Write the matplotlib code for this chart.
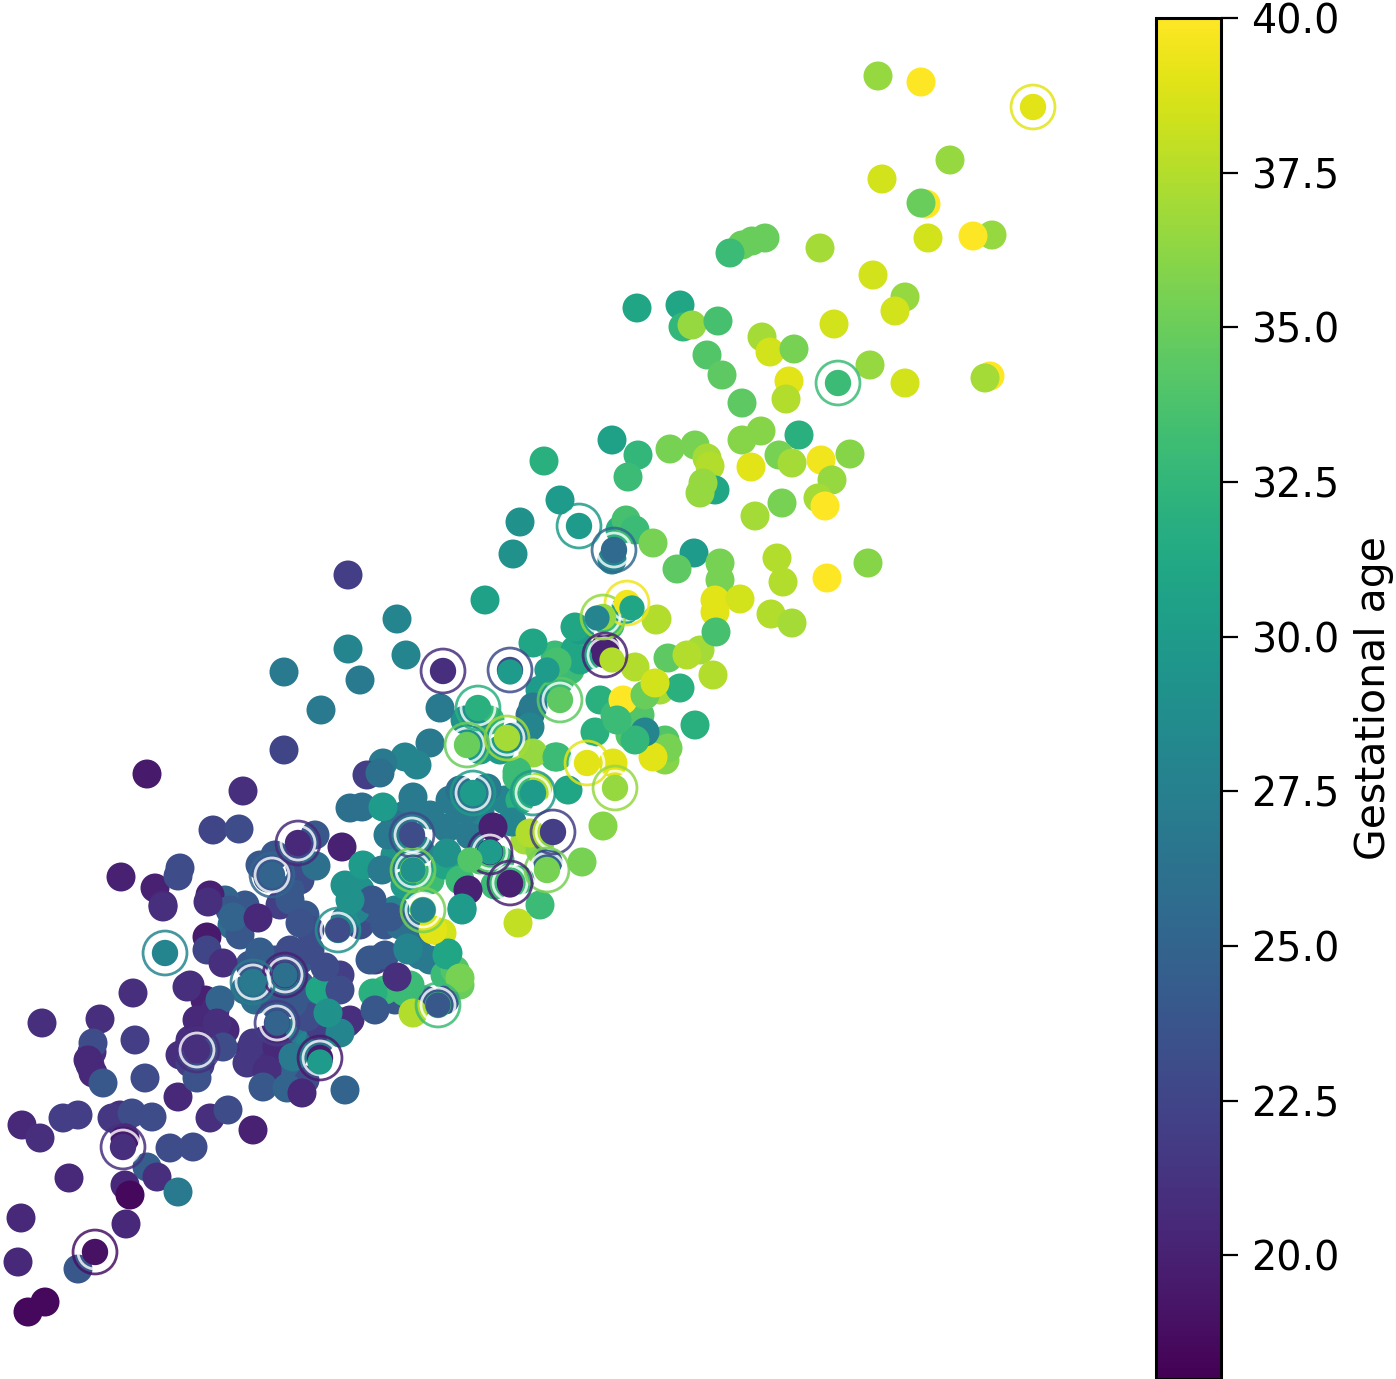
import matplotlib.pyplot as plt

# ============================================================
# DATA (x, y, age from the colour)
# ============================================================

dense_x = [190, 205, 215, 205, 190, 210, 225, 200, 180, 92, 90, 120, 122, 250, 265, 275, 260, 270, 280, 290,
           295, 305, 285, 300, 310, 320, 335, 350, 300, 290, 310, 325, 335, 340, 300, 275, 265, 250, 245, 255,
           270, 285, 275, 300, 315, 305, 310, 245, 225, 232, 240, 280, 290, 300, 290, 260, 275, 315, 300, 360,
           375, 385, 395, 400, 375, 385, 415, 420, 430, 445, 455, 460, 445, 425, 410, 395, 385, 345, 360, 345,
           355, 420, 395, 405, 430, 445, 460, 480, 500, 470, 480, 450, 460, 465, 430, 405, 395, 520, 495, 525,
           540, 505, 520, 530, 500, 480, 490, 465, 540, 560, 555, 575, 570, 590, 640, 660, 600, 615, 630, 665,
           665, 610, 580, 620, 612, 625, 700]
dense_y = [985, 1000, 1010, 1030, 1040, 1040, 1030, 1065, 1055, 1052, 1065, 1115, 1125, 1050, 1040, 1055, 1060,
           1075, 1030, 1045, 1075, 1080, 1065, 1030, 1045, 1040, 1020, 1020, 960, 950, 950, 985, 985, 975, 985,
           960, 970, 965, 990, 1000, 990, 990, 1005, 1005, 1005, 915, 930, 905, 900, 925, 935, 905, 900, 880,
           890, 865, 855, 835, 850, 925, 910, 925, 910, 925, 960, 955, 930, 955, 960, 975, 970, 985, 1000, 1000,
           985, 1000, 990, 885, 890, 920, 910, 850, 855, 885, 880, 865, 880, 860, 860, 835, 810, 800, 790, 810,
           815, 815, 825, 880, 885, 840, 850, 800, 800, 715, 750, 750, 720, 720, 690, 680, 655, 650, 670, 655,
           715, 690, 700, 715, 735, 740, 760, 625, 630, 530, 560, 610, 650]
dense_age = [21, 20, 20.5, 20.5, 21, 21, 20.5, 22, 21, 21, 21, 21, 20.5, 21, 20.5, 20, 21, 21, 21, 21,
             21, 23, 25, 27, 28, 26, 24, 21, 24, 23, 23, 22, 22, 22, 24, 23, 21, 24, 26, 26,
             26, 26, 24, 24, 24, 24, 23, 24, 25, 26, 24, 22, 24, 23, 24, 24, 24, 24, 22, 23,
             24, 24, 28, 26, 22, 24, 26, 27, 27, 33, 34, 35, 24, 24, 33, 24, 33, 29, 29, 27,
             28, 28, 29, 30, 33, 31, 33, 34, 33, 27, 28, 27, 26, 27, 27, 27, 26, 33, 33, 37,
             36, 28, 32, 26, 30, 30, 33, 29, 30, 33, 33, 31, 33, 32, 34, 37, 32, 33, 34, 34,
             36, 33, 30, 32, 28, 31, 37]

upper_x = [878, 921, 950, 882, 926, 921, 992, 973, 928, 765, 752, 742, 730, 820, 873, 905, 895, 637, 680, 683,
           692, 718, 834, 762, 770, 794, 707, 722, 870, 789, 905, 990, 985, 786, 742, 612, 670, 695, 742, 761,
           799, 638, 628, 544, 707, 710, 751, 779, 792, 821, 850, 832, 715, 700, 703, 560, 818, 825, 782, 755,
           520, 626, 635, 653, 513, 694, 720, 777, 677, 868, 827, 783, 485, 348, 397, 720, 715, 740, 715, 771,
           792, 656, 716, 406, 348, 360, 284, 321, 284, 147, 243, 213, 239, 121]
upper_y = [76, 82, 160, 179, 204, 203, 235, 236, 238, 238, 241, 245, 253, 248, 275, 297, 311, 308, 305, 327,
           325, 321, 324, 337, 352, 349, 355, 375, 365, 381, 383, 376, 378, 399, 403, 440, 449, 445, 440, 431,
           435, 455, 477, 461, 458, 466, 467, 455, 463, 460, 454, 480, 490, 493, 483, 500, 498, 506, 503, 516,
           522, 520, 530, 543, 554, 553, 563, 558, 569, 563, 578, 582, 600, 575, 619, 580, 600, 599, 612, 614,
           623, 620, 632, 655, 649, 680, 672, 710, 750, 774, 791, 830, 829, 877]
upper_age = [36.5, 40, 36.5, 38.5, 40, 35, 36.5, 40, 38.5, 35, 35, 35, 33, 37, 38.5, 36.5, 38.5, 31, 31, 32.5,
             36.5, 33.5, 38.5, 37, 38.5, 35.5, 34, 34.5, 36.5, 39, 38.5, 40, 37, 37.5, 34.5, 30.5, 35.5, 35.5, 36, 36,
             32, 32.5, 33, 32, 37, 37.5, 39, 35.5, 37, 39.5, 36, 36.5, 31, 36.5, 36.5, 30, 37, 40, 35.5, 37,
             29, 33.5, 33, 35.5, 29, 30, 35.5, 37.5, 34.5, 36, 40, 37.5, 30.5, 22, 28, 35.5, 39, 38.5, 39, 37.5,
             37, 37.5, 33.5, 28, 28, 27, 27, 27, 22.5, 19.5, 21, 22.5, 23, 20]

middle_x = [533, 575, 657, 580, 557, 605, 440, 533, 530, 513, 477, 430, 405, 417, 383, 367, 380, 350, 362, 383,
            413, 487, 517, 538, 568, 555, 533, 613, 603, 582, 512, 493, 530, 388, 447, 342, 363, 382, 548, 447,
            468, 462, 540, 518, 442, 448, 408, 372, 390, 350, 623, 645, 680, 668, 687, 713, 635, 655, 695, 668,
            653, 645, 635, 595, 617, 557, 517, 155, 163, 180, 178, 210, 300, 316, 230, 268]
middle_y = [643, 627, 619, 660, 662, 648, 708, 707, 727, 737, 733, 743, 757, 765, 763, 775, 773, 808, 807, 807,
            797, 788, 777, 787, 790, 757, 753, 763, 826, 862, 822, 827, 833, 835, 828, 847, 865, 870, 862, 853,
            890, 908, 905, 923, 933, 953, 950, 900, 917, 900, 700, 695, 688, 658, 655, 675, 667, 683, 725, 748,
            757, 732, 740, 732, 720, 757, 772, 888, 905, 868, 876, 895, 866, 866, 910, 878]
middle_age = [31, 31, 37.5, 31, 33.5, 20, 27, 27, 28, 28, 29, 27, 28, 28, 27, 22, 26, 26, 26, 30,
              27, 27, 33, 37.5, 31, 33, 36.5, 39, 36, 35.5, 28, 20, 37.5, 27, 27, 20, 30, 27, 25, 29,
              20, 30, 33, 38, 38.5, 31, 28, 24, 24, 29, 40, 35, 32, 34.5, 37.5, 37.5, 37.5, 38.5, 32, 35.5,
              39, 28, 32.5, 32, 33, 33, 33, 20, 20.5, 23, 23, 20, 23, 26, 24, 24]

lower_x = [163, 208, 207, 207, 223, 233, 258, 300, 260, 370, 408, 462, 447, 460, 433, 405, 373, 375, 413, 397,
           320, 325, 340, 187, 220, 133, 42, 100, 135, 93, 88, 93, 103, 145, 178, 197, 217, 203, 223, 190,
           197, 253, 277, 247, 267, 263, 287, 302, 320, 347, 340, 293, 345, 307, 328, 293, 22, 40, 63, 78,
           112, 132, 152, 125, 147, 170, 193, 157, 210, 228, 253, 69, 125, 130, 178, 21, 126, 18, 78, 28, 45]
lower_y = [907, 902, 937, 950, 963, 917, 918, 923, 952, 960, 948, 910, 955, 978, 930, 992, 993, 1010, 1013, 977,
           990, 967, 990, 987, 1000, 993, 1023, 1019, 1040, 1043, 1060, 1073, 1083, 1078, 1097, 1020, 1023, 1053,
           1047, 1063, 1078, 1043, 1047, 1063, 1070, 1087, 1088, 1093, 1027, 1023, 1033, 1057, 1090, 1017, 1013,
           1003, 1125, 1138, 1118, 1115, 1118, 1113, 1117, 1138, 1167, 1148, 1147, 1177, 1118, 1110, 1130, 1178,
           1185, 1195, 1192, 1218, 1224, 1262, 1269, 1312, 1302]
lower_age = [21, 21, 19.5, 22.5, 21, 25, 20.5, 23.5, 24.5, 24, 28, 30, 31, 35.5, 39, 33, 32, 24, 37.5, 21,
             31, 23, 23, 21, 25, 21, 21, 21, 22, 23, 20.5, 20.5, 24, 23, 20.5, 20.5, 21, 23, 23, 22,
             23.5, 21.5, 20.5, 21.5, 21, 24, 25, 20.5, 22, 21, 28, 27, 25, 23, 29, 24, 20.5, 21, 22, 22,
             21.5, 23, 23, 19.5, 24.5, 23, 23, 21, 21, 23, 20, 20.5, 20.5, 18.5, 27, 20.5, 20.5, 20.5, 24, 18.5, 18.5]

ring_x = [1033, 838, 579, 614, 627, 603, 605, 443, 510, 478, 560, 507, 467, 473, 533, 587, 615, 553, 412, 413,
          490, 547, 510, 423, 165, 272, 298, 285, 253, 338, 438, 277, 197, 320, 123, 95]
ring_y = [107, 383, 526, 550, 603, 617, 655, 671, 670, 708, 700, 738, 745, 793, 793, 763, 788, 832, 835, 870,
          852, 870, 883, 910, 953, 875, 843, 975, 982, 930, 1005, 1023, 1050, 1058, 1147, 1252]
ring_age = [39, 33, 30, 25.5, 39.5, 36.5, 20, 21, 23, 32, 34.5, 37, 35, 30, 30, 39, 36.5, 22, 23, 35.5,
            20, 35.5, 20, 35.5, 28, 25, 20.5, 20, 27, 29, 33, 22, 21, 19.5, 21, 19]

# points that sit on top of the ring markers
front_x = [632, 597, 612, 547, 510, 490, 413, 423, 285, 253, 320, 277, 438, 338, 470, 510]
front_y = [608, 618, 660, 670, 672, 852, 870, 910, 975, 982, 1062, 1023, 1005, 930, 860, 885]
front_age = [31, 28, 37.5, 30, 30, 30, 29, 28, 26, 27, 30, 25, 24, 23, 34, 20]

cbar_ticks = [20.0, 22.5, 25.0, 27.5, 30.0, 32.5, 35.0, 37.5, 40.0]

VMIN = 18
VMAX = 40
WIDTH = 1396
HEIGHT = 1379

# ============================================================
# PLOT
# ============================================================

fig = plt.figure(figsize=(WIDTH / 100, HEIGHT / 100), dpi=100)

ax = fig.add_axes([0, 0, 1130 / WIDTH, 1])
ax.set_xlim(0, 1130)
ax.set_ylim(HEIGHT, 0)
ax.axis("off")

style = dict(cmap="viridis", vmin=VMIN, vmax=VMAX)

for xs, ys, ages in [(dense_x, dense_y, dense_age),
                     (upper_x, upper_y, upper_age),
                     (middle_x, middle_y, middle_age),
                     (lower_x, lower_y, lower_age)]:
    sc = ax.scatter(xs, ys, c=ages, s=436, linewidths=0, zorder=2, **style)

# ring markers: coloured circle, white gap, dot in the middle
ring_colors = sc.cmap(sc.norm(ring_age))
ax.scatter(ring_x, ring_y, s=600, facecolors="none", edgecolors="white", linewidths=2.0, alpha=0.8, zorder=3)
ax.scatter(ring_x, ring_y, s=1000, facecolors="none", edgecolors=ring_colors, linewidths=2.0, alpha=0.85, zorder=3)
ax.scatter(ring_x, ring_y, c=ring_age, s=360, linewidths=0, zorder=3, **style)

ax.scatter(front_x, front_y, c=front_age, s=330, linewidths=0, zorder=4, **style)

cax = fig.add_axes([1156 / WIDTH, 0, 65 / WIDTH, (HEIGHT - 18) / HEIGHT])
cbar = fig.colorbar(sc, cax=cax, ticks=cbar_ticks)
cbar.ax.set_yticklabels([f"{t:.1f}" for t in cbar_ticks])
cbar.ax.tick_params(labelsize=28.5, length=12, width=1.6, pad=10)
cbar.outline.set_linewidth(2.2)
cbar.set_label("Gestational age", fontsize=29.5, labelpad=10)

fig.savefig("out.png", dpi=100)
